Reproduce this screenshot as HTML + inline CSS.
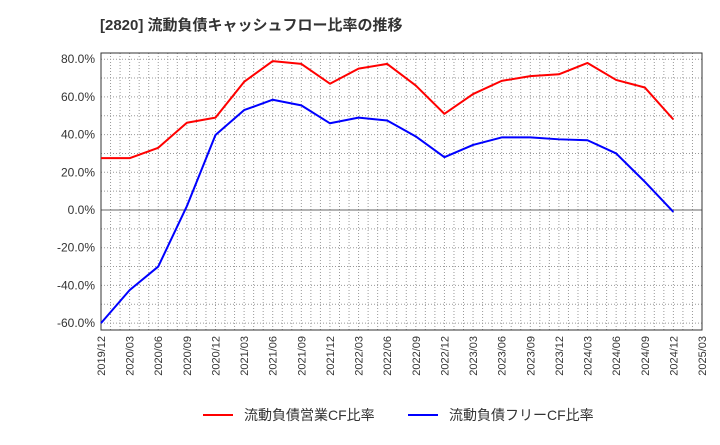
<!DOCTYPE html>
<html><head><meta charset="utf-8">
<style>
body{margin:0;background:#fff;font-family:"Liberation Sans","Noto Sans CJK JP",sans-serif;}
svg text{font-family:"Liberation Sans","Noto Sans CJK JP",sans-serif;}
</style></head>
<body>
<svg id="chart" width="720" height="440">
<text x="100" y="30" font-size="15" font-weight="bold" fill="#333">[2820]  流動負債キャッシュフロー比率の推移</text>
<g id="grid"></g>
<g id="axes"></g>
<g id="series"></g>
<g>
<line x1="203" y1="415" x2="233" y2="415" stroke="#ff0000" stroke-width="2"/>
<text x="244" y="420" font-size="14" fill="#333">流動負債営業CF比率</text>
<line x1="408" y1="415" x2="438" y2="415" stroke="#0000ff" stroke-width="2"/>
<text x="449" y="420" font-size="14" fill="#333">流動負債フリーCF比率</text>
</g>
</svg>
<script>
const xLabels=["2019/12","2020/03","2020/06","2020/09","2020/12","2021/03","2021/06","2021/09","2021/12","2022/03","2022/06","2022/09","2022/12","2023/03","2023/06","2023/09","2023/12","2024/03","2024/06","2024/09","2024/12","2025/03"];
const yTicks=[80,60,40,20,0,-20,-40,-60];
const operatingCF=[27.5,27.5,33,46.3,49,68,79,77.5,67,75,77.5,66,51,61.5,68.5,71,72,78,69,65,48];
const freeCF=[-60,-42.5,-30,2,39.8,53,58.5,55.5,46,49,47.5,39,28,34.5,38.5,38.5,37.5,37,30,15,-1];
const L=101,R=702,T=53,B=330;
const xs=i=>L+i*(R-L)/(xLabels.length-1);
const ys=v=>210-v*(37.7/20);
const NS="http://www.w3.org/2000/svg";
function mk(tag,attrs,parent){const e=document.createElementNS(NS,tag);for(const k in attrs)e.setAttribute(k,attrs[k]);parent.appendChild(e);return e;}
const grid=document.getElementById('grid'),axes=document.getElementById('axes'),series=document.getElementById('series');
for(let m=1;m<63;m++){const x=L+m*(R-L)/63;const g=mk('line',{x1:x,x2:x,y1:T,y2:B,stroke:'#999','stroke-dasharray':'1,2','stroke-width':1},grid);

}
for(let v=80;v>=-60;v-=10){const y=ys(v);const g=mk('line',{x1:L,x2:R,y1:y,y2:y,stroke:v===0?'#666':'#999','stroke-dasharray':v===0?'':'1,2','stroke-width':1},grid);

}
const frame=mk('rect',{x:L,y:T,width:R-L,height:B-T,fill:'none',stroke:'#333'},axes);


yTicks.forEach(v=>{const t=mk('text',{x:L-6,y:ys(v)+4,'font-size':12,'text-anchor':'end',fill:'#333'},axes);t.textContent=v.toFixed(1)+'%';

});
xLabels.forEach((s,i)=>{const x=xs(i);const t=mk('text',{x:x+4,y:B+6,'font-size':11,'text-anchor':'end',fill:'#333',transform:`rotate(-90 ${x+4} ${B+6})`},axes);t.textContent=s;

});
function line(data,color,name){const p=mk('polyline',{points:data.map((v,i)=>xs(i)+','+ys(v)).join(' '),fill:'none',stroke:color,'stroke-width':2,'stroke-linejoin':'round'},series);

}
line(operatingCF,'#ff0000','operating-cf-line');
line(freeCF,'#0000ff','free-cf-line');
</script>
</body></html>
